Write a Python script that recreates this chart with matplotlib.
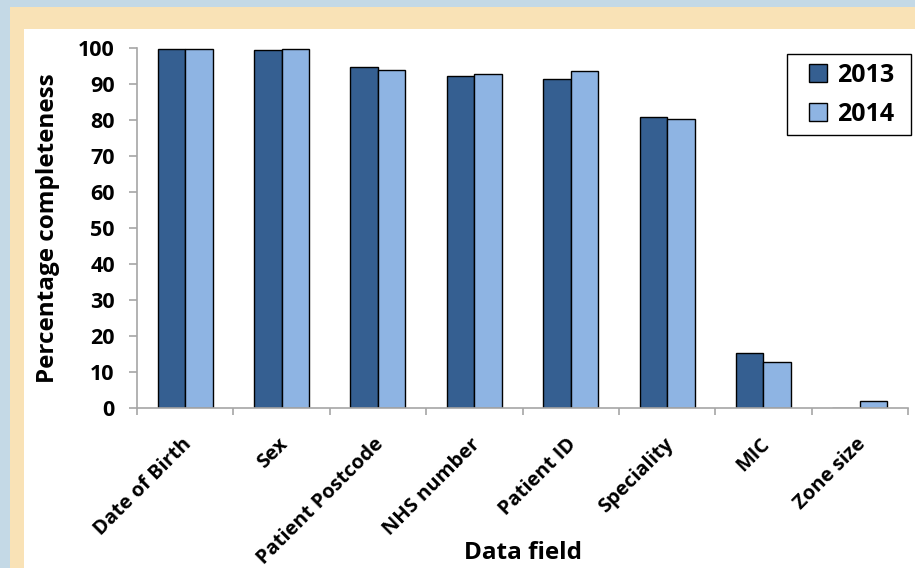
import numpy as np
import matplotlib.pyplot as plt
import matplotlib.transforms as mtransforms
from matplotlib.patches import Rectangle

fields = ['Date of Birth', 'Sex', 'Patient Postcode', 'NHS number',
          'Patient ID', 'Speciality', 'MIC', 'Zone size']
pct_2013 = [99.7, 99.5, 94.6, 92.2, 91.4, 80.8, 15.2, 0.1]
pct_2014 = [99.7, 99.6, 93.8, 92.7, 93.5, 80.3, 12.7, 1.9]

plt.rcParams['font.family'] = ['Open Sans', 'DejaVu Sans']
plt.rcParams['font.weight'] = 'bold'

fig = plt.figure(figsize=(9.15, 5.68), dpi=100, facecolor='#c4d9e6')
# beige frame and white panel behind the chart
fig.patches.append(Rectangle((10/915, 0), 1, 1 - 7/568, transform=fig.transFigure,
                             facecolor='#f9e2b6', edgecolor='none', zorder=-10))
fig.patches.append(Rectangle((24/915, 0), 1, 1 - 29/568, transform=fig.transFigure,
                             facecolor='white', edgecolor='none', zorder=-9))

ax = fig.add_axes([137/915, 1 - 408/568, 771/915, 360/568])
ax.set_facecolor('none')

x = np.arange(len(fields))
w = 0.285
ax.bar(x - w/2, pct_2013, w, color='#355f91', edgecolor='black', linewidth=1, label='2013')
ax.bar(x + w/2, pct_2014, w, color='#8eb4e3', edgecolor='black', linewidth=1, label='2014')

ax.set_xlim(-0.5, len(fields) - 0.5)
ax.set_ylim(0, 100)
ax.set_yticks(range(0, 101, 10))
ax.tick_params(axis='y', labelsize=15.5, length=6, color='#a6a6a6', width=1.2, pad=10)
for t in ax.get_yticklabels():
    t.set_fontweight('bold')

ax.set_xticks(np.arange(-0.5, len(fields), 1))
ax.set_xticklabels([])
ax.tick_params(axis='x', length=5, color='#a6a6a6', width=1.2)
ax.set_xticks(x, minor=True)
ax.set_xticklabels(fields, minor=True, rotation=45, ha='right', rotation_mode='anchor',
                   fontsize=14.5, fontweight='bold')
ax.tick_params(axis='x', which='minor', length=0, pad=16)
# nudge the slanted labels a little left and down
shift = mtransforms.ScaledTranslation(-4/100, -4/100, fig.dpi_scale_trans)
for t in ax.get_xticklabels(minor=True):
    t.set_transform(t.get_transform() + shift)

for s in ['top', 'right']:
    ax.spines[s].set_visible(False)
for s in ['left', 'bottom']:
    ax.spines[s].set_color('#a6a6a6')
    ax.spines[s].set_linewidth(1.2)

ax.set_ylabel('Percentage completeness', fontsize=17.5, fontweight='bold')
ax.yaxis.set_label_coords(-0.1, 0.5)
ax.set_xlabel('Data field', fontsize=17.5, fontweight='bold')
ax.xaxis.set_label_coords(0.5, -0.37)

# legend box drawn separately so its padding can differ across and down
ax.add_patch(Rectangle((0.843, 0.758), 0.161, 0.225, transform=ax.transAxes,
                       facecolor='white', edgecolor='black', linewidth=1,
                       clip_on=False, zorder=4))
leg = ax.legend(loc='center', bbox_to_anchor=(0.927, 0.87), frameon=False,
                prop={'weight': 'bold', 'size': 18}, handlelength=0.75,
                handleheight=0.75, handletextpad=0.4, borderpad=0,
                labelspacing=0.57)
leg.set_zorder(5)

fig.savefig('out.png', dpi=100, facecolor=fig.get_facecolor())
